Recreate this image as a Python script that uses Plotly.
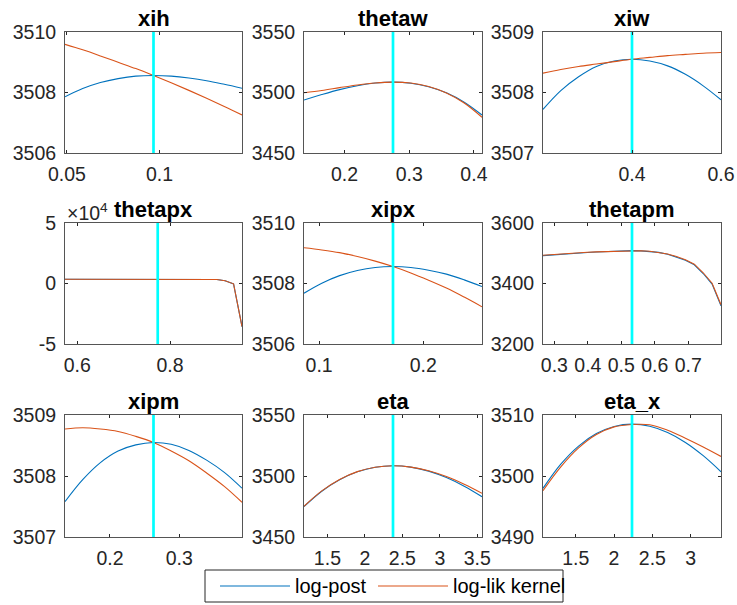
import plotly.graph_objects as go
from plotly.subplots import make_subplots

# ---- data: parameter grids, log-posterior and log-likelihood kernel values ----
params = ["xih", "thetaw", "xiw", "thetapx", "xipx", "thetapm", "xipm", "eta", "eta_x"]
series_names = ["log-post", "log-lik kernel"]

xih_x = [0.0490, 0.05855, 0.0681, 0.07765, 0.0872, 0.09675, 0.1063, 0.11585, 0.1254, 0.13495, 0.1445]
xih_post = [3507.86, 3508.13, 3508.33, 3508.46, 3508.54, 3508.56, 3508.54, 3508.48, 3508.39, 3508.27, 3508.14]
xih_lik = [3509.59, 3509.41, 3509.21, 3509.00, 3508.79, 3508.56, 3508.32, 3508.07, 3507.81, 3507.54, 3507.26]
xih_mode = 0.09675

thetaw_x = [0.1375, 0.165, 0.1925, 0.22, 0.2475, 0.275, 0.3025, 0.33, 0.3575, 0.385, 0.4125]
thetaw_post = [3493.8, 3498.3, 3502.4, 3505.6, 3507.8, 3508.6, 3507.7, 3504.8, 3499.7, 3492.0, 3481.4]
thetaw_lik = [3499.8, 3501.7, 3504.0, 3506.2, 3507.9, 3508.6, 3507.8, 3504.9, 3499.6, 3491.3, 3479.5]
thetaw_mode = 0.275

xiw_x = [0.20, 0.24, 0.28, 0.32, 0.36, 0.40, 0.44, 0.48, 0.52, 0.56, 0.60]
xiw_post = [3507.72, 3508.03, 3508.26, 3508.43, 3508.52, 3508.55, 3508.52, 3508.44, 3508.30, 3508.11, 3507.88]
xiw_lik = [3508.32, 3508.38, 3508.43, 3508.47, 3508.51, 3508.55, 3508.58, 3508.61, 3508.63, 3508.65, 3508.66]
xiw_mode = 0.40

thetapx_x = [0.5735, 0.5935, 0.6135, 0.6335, 0.6535, 0.6735, 0.6935, 0.7135, 0.7335, 0.7535, 0.7735,
             0.7917, 0.8099, 0.8280, 0.8462, 0.8644, 0.8826, 0.9008, 0.9189, 0.9371, 0.9553]
thetapx_post = [3480, 3485, 3490, 3494, 3498, 3501, 3504, 3506, 3507.5, 3508.3, 3508.6,
                3508.2, 3506.9, 3504.2, 3499, 3489, 3466, 3300, 2300, -300, -35700]
thetapx_lik = [3482, 3487, 3491, 3495, 3499, 3502, 3504.5, 3506.5, 3507.7, 3508.4, 3508.6,
               3508.3, 3507.2, 3504.8, 3500, 3491, 3470, 3310, 2330, -250, -35600]
thetapx_mode = 0.7735

xipx_x = [0.0855, 0.1026, 0.1197, 0.1368, 0.1539, 0.1710, 0.1881, 0.2052, 0.2223, 0.2394, 0.2565]
xipx_post = [3507.68, 3508.01, 3508.26, 3508.43, 3508.53, 3508.56, 3508.53, 3508.44, 3508.31, 3508.12, 3507.90]
xipx_lik = [3509.18, 3509.11, 3509.02, 3508.89, 3508.74, 3508.56, 3508.35, 3508.11, 3507.85, 3507.55, 3507.23]
xipx_mode = 0.1710

thetapm_x = [0.266, 0.2926, 0.3192, 0.3458, 0.3724, 0.399, 0.4256, 0.4522, 0.4788, 0.5054, 0.532,
             0.5586, 0.5852, 0.6118, 0.6384, 0.665, 0.6916, 0.7182, 0.7448, 0.7714, 0.798]
thetapm_post = [3492.0, 3494.5, 3496.8, 3498.9, 3500.8, 3502.5, 3504.0, 3505.4, 3506.6, 3507.7, 3508.6,
                3508.0, 3506.5, 3503.0, 3497.0, 3488.0, 3477.0, 3462.0, 3433.0, 3398.0, 3326.0]
thetapm_lik = [3493.5, 3495.8, 3498.0, 3499.9, 3501.6, 3503.2, 3504.6, 3505.8, 3506.9, 3507.8, 3508.6,
               3508.1, 3506.8, 3503.5, 3497.8, 3489.0, 3478.5, 3463.8, 3435.5, 3401.0, 3330.0]
thetapm_mode = 0.532

xipm_x = [0.1351, 0.16064, 0.18618, 0.21172, 0.23726, 0.2628, 0.28834, 0.31388, 0.33942, 0.36496, 0.3905]
xipm_post = [3507.58, 3507.94, 3508.22, 3508.41, 3508.51, 3508.55, 3508.52, 3508.42, 3508.26, 3508.06, 3507.80]
xipm_lik = [3508.77, 3508.79, 3508.77, 3508.73, 3508.65, 3508.55, 3508.41, 3508.25, 3508.05, 3507.83, 3507.57]
xipm_mode = 0.2628

eta_x_grid = [1.1875, 1.425, 1.6625, 1.9, 2.1375, 2.375, 2.6125, 2.85, 3.0875, 3.325, 3.5625]
eta_post = [3474.9, 3487.5, 3496.9, 3503.4, 3507.2, 3508.4, 3507.3, 3504.0, 3498.7, 3491.6, 3483.0]
eta_lik = [3475.2, 3487.8, 3497.2, 3503.6, 3507.2, 3508.4, 3507.3, 3504.3, 3499.5, 3493.2, 3485.8]
eta_mode = 2.375

etax_x = [1.0735, 1.3057, 1.5378, 1.7700, 2.0021, 2.2343, 2.4664, 2.6986, 2.9307, 3.1629, 3.3950]
etax_post = [3497.98, 3501.94, 3504.91, 3506.95, 3508.12, 3508.50, 3508.15, 3507.12, 3505.50, 3503.33, 3500.70]
etax_lik = [3497.60, 3501.50, 3504.60, 3506.80, 3508.05, 3508.45, 3508.40, 3507.50, 3506.19, 3504.75, 3503.20]
etax_mode = 2.2343

# axis ticks
xih_xticks = [0.05, 0.1]
thetaw_xticks = [0.2, 0.3, 0.4]
xiw_xticks = [0.4, 0.6]
thetapx_xticks = [0.6, 0.8]
xipx_xticks = [0.1, 0.2]
thetapm_xticks = [0.3, 0.4, 0.5, 0.6, 0.7]
xipm_xticks = [0.2, 0.3]
eta_xticks = [1.5, 2, 2.5, 3, 3.5]
etax_xticks = [1.5, 2, 2.5, 3]

xih_yticks = [3506, 3508, 3510]
thetaw_yticks = [3450, 3500, 3550]
xiw_yticks = [3507, 3508, 3509]
thetapx_yticks = [-50000, 0, 50000]
thetapx_yticklabels = ["-5", "0", "5"]
xipx_yticks = [3506, 3508, 3510]
thetapm_yticks = [3200, 3400, 3600]
xipm_yticks = [3507, 3508, 3509]
eta_yticks = [3450, 3500, 3550]
etax_yticks = [3490, 3500, 3510]

panels = [
    (xih_x, xih_post, xih_lik, xih_mode, xih_xticks, xih_yticks, None, False),
    (thetaw_x, thetaw_post, thetaw_lik, thetaw_mode, thetaw_xticks, thetaw_yticks, None, False),
    (xiw_x, xiw_post, xiw_lik, xiw_mode, xiw_xticks, xiw_yticks, None, False),
    (thetapx_x, thetapx_post, thetapx_lik, thetapx_mode, thetapx_xticks, thetapx_yticks, thetapx_yticklabels, True),
    (xipx_x, xipx_post, xipx_lik, xipx_mode, xipx_xticks, xipx_yticks, None, False),
    (thetapm_x, thetapm_post, thetapm_lik, thetapm_mode, thetapm_xticks, thetapm_yticks, None, True),
    (xipm_x, xipm_post, xipm_lik, xipm_mode, xipm_xticks, xipm_yticks, None, False),
    (eta_x_grid, eta_post, eta_lik, eta_mode, eta_xticks, eta_yticks, None, False),
    (etax_x, etax_post, etax_lik, etax_mode, etax_xticks, etax_yticks, None, False),
]

# ---- styling / layout ----
W, H = 737, 605
FONT = "Liberation Sans, Arial, Helvetica, sans-serif"
BLUE, RED, CYAN = "#0072BD", "#D95319", "#00FFFF"
AXC = "#262626"
COLS = [(65, 242), (304, 482), (543, 721)]
ROWS = [(32, 153), (223, 344), (415, 537)]


def px_x(v):
    return v / W


def px_y(v):
    return 1 - v / H


fig = make_subplots(rows=3, cols=3)
annotations = []
shapes = []

for i, (name, p) in enumerate(zip(params, panels)):
    xs, post, lik, mode, xt, yt, ytext, kinked = p
    r, c = divmod(i, 3)
    shape = "linear" if kinked else "spline"
    fig.add_trace(go.Scatter(x=xs, y=post, mode="lines", name=series_names[0],
                             line=dict(color=BLUE, width=1.1, shape=shape),
                             showlegend=False), row=r + 1, col=c + 1)
    fig.add_trace(go.Scatter(x=xs, y=lik, mode="lines", name=series_names[1],
                             line=dict(color=RED, width=1.1, shape=shape),
                             showlegend=False), row=r + 1, col=c + 1)
    fig.add_trace(go.Scatter(x=[mode, mode], y=[yt[0], yt[-1]], mode="lines",
                             line=dict(color=CYAN, width=2.7), showlegend=False,
                             hoverinfo="skip"), row=r + 1, col=c + 1)

    L, R = COLS[c]
    T, B = ROWS[r]
    k = "" if i == 0 else str(i + 1)
    fig.layout["xaxis" + k].update(
        domain=[px_x(L), px_x(R)], range=[xs[0], xs[-1]], automargin=False,
        tickvals=xt, ticktext=[f"{v:g}" for v in xt],
        ticks="inside", ticklen=3, tickcolor=AXC, tickwidth=1,
        showline=True, linecolor="#555555", linewidth=1, mirror="ticks",
        showgrid=False, zeroline=False, ticklabelstandoff=4,
        tickfont=dict(family=FONT, size=19.5, color=AXC))
    fig.layout["yaxis" + k].update(
        domain=[px_y(B), px_y(T)], range=[yt[0], yt[-1]], automargin=False,
        tickvals=yt, ticktext=ytext if ytext else [f"{v:g}" for v in yt],
        ticks="inside", ticklen=3, tickcolor=AXC, tickwidth=1,
        showline=True, linecolor="#555555", linewidth=1, mirror="ticks",
        showgrid=False, zeroline=False, ticklabelstandoff=4,
        tickfont=dict(family=FONT, size=19.5, color=AXC))

    annotations.append(dict(x=px_x((L + R) / 2), y=px_y(T), xref="paper", yref="paper",
                            text=f"<b>{name}</b>", showarrow=False, xanchor="center",
                            yanchor="bottom", yshift=-1,
                            font=dict(family=FONT, size=22, color="black")))
    if name == "thetapx":
        annotations.append(dict(x=px_x(L), y=px_y(T), xref="paper", yref="paper",
                                text="×10<sup>4</sup>", showarrow=False, xanchor="left",
                                yanchor="bottom", yshift=-3,
                                font=dict(family=FONT, size=19.5, color=AXC)))

# legend box drawn in paper space
LEG = (205, 570, 563, 602)
shapes.append(dict(type="rect", xref="paper", yref="paper",
                   x0=px_x(LEG[0]), x1=px_x(LEG[2]), y0=px_y(LEG[3]), y1=px_y(LEG[1]),
                   line=dict(color="#262626", width=1), fillcolor="white"))
legend_items = [(series_names[0], BLUE, 220, 290, 295), (series_names[1], RED, 378, 448, 453)]
ymid = (LEG[1] + LEG[3]) / 2
for label, col, a, b, tx in legend_items:
    shapes.append(dict(type="line", xref="paper", yref="paper",
                       x0=px_x(a), x1=px_x(b), y0=px_y(ymid), y1=px_y(ymid),
                       line=dict(color=col, width=1.1)))
    annotations.append(dict(x=px_x(tx), y=px_y(ymid), xref="paper", yref="paper",
                            text=label, showarrow=False, xanchor="left", yanchor="middle",
                            xshift=-2, font=dict(family=FONT, size=20, color="black")))

fig.update_layout(width=W, height=H, margin=dict(l=0, r=0, t=0, b=0, autoexpand=False),
                  paper_bgcolor="white", plot_bgcolor="white",
                  annotations=annotations, shapes=shapes, showlegend=False)

fig.write_html("out.html")
